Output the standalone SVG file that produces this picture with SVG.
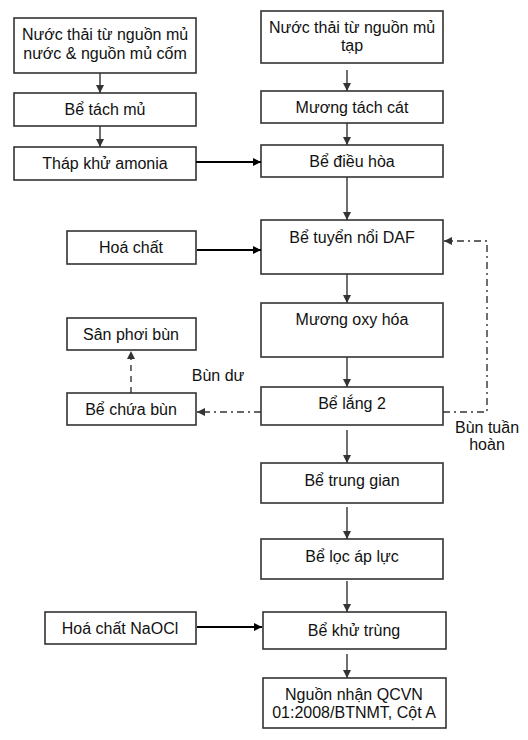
<svg xmlns="http://www.w3.org/2000/svg" width="528" height="740" viewBox="0 0 528 740">
<defs>
<style>
.box{fill:#fff;stroke:#333;stroke-width:1.6}
.t{font-family:"Liberation Sans",Arial,sans-serif;font-size:16px;fill:#111;text-anchor:middle}
.ln{fill:none;stroke:#333;stroke-width:1.4}
.thick{fill:none;stroke:#000;stroke-width:2.2}
.dd{fill:none;stroke:#333;stroke-width:1.4;stroke-dasharray:7 4 2 4}
.ds{fill:none;stroke:#333;stroke-width:1.4;stroke-dasharray:6 5}
</style>
<marker id="ah" markerUnits="userSpaceOnUse" markerWidth="10" markerHeight="10" refX="8" refY="4" orient="auto"><path d="M0,0 L8,4 L0,8 z" fill="#333"/></marker>
<marker id="ahk" markerUnits="userSpaceOnUse" markerWidth="10" markerHeight="10" refX="8" refY="4" orient="auto"><path d="M0,0 L8,4 L0,8 z" fill="#000"/></marker>
</defs>
<g id="n1"><rect class="box" x="14" y="18" width="182" height="55"/><text class="t" x="105" y="40">Nước thải từ nguồn mủ</text><text class="t" x="105" y="59">nước &amp; nguồn mủ cốm</text></g>
<g id="n2"><rect class="box" x="14" y="93" width="182" height="33"/><text class="t" x="105" y="115">Bể tách mủ</text></g>
<g id="n3"><rect class="box" x="14" y="147" width="182" height="33"/><text class="t" x="105" y="169">Tháp khử amonia</text></g>
<g id="nA"><rect class="box" x="261" y="11" width="182" height="52"/><text class="t" x="352" y="33">Nước thải từ nguồn mủ</text><text class="t" x="352" y="51">tạp</text></g>
<g id="nB"><rect class="box" x="261" y="91" width="182" height="32"/><text class="t" x="352" y="113">Mương tách cát</text></g>
<g id="nC"><rect class="box" x="261" y="145" width="182" height="32"/><text class="t" x="352" y="167">Bể điều hòa</text></g>
<g id="nD"><rect class="box" x="261" y="220" width="182" height="54"/><text class="t" x="352" y="243">Bể tuyển nổi DAF</text></g>
<g id="nHC"><rect class="box" x="67" y="231" width="129" height="33"/><text class="t" x="131" y="253">Hoá chất</text></g>
<g id="nE"><rect class="box" x="261" y="303" width="182" height="54"/><text class="t" x="352" y="325">Mương oxy hóa</text></g>
<g id="nSP"><rect class="box" x="67" y="318" width="129" height="32"/><text class="t" x="131" y="340">Sân phơi bùn</text></g>
<g id="nF"><rect class="box" x="261" y="387" width="182" height="38"/><text class="t" x="352" y="409">Bể lắng 2</text></g>
<g id="nCB"><rect class="box" x="67" y="393" width="129" height="32"/><text class="t" x="131" y="415">Bể chứa bùn</text></g>
<g id="nG"><rect class="box" x="261" y="463" width="182" height="40"/><text class="t" x="352" y="486">Bể trung gian</text></g>
<g id="nH"><rect class="box" x="261" y="539" width="182" height="40"/><text class="t" x="352" y="562">Bể lọc áp lực</text></g>
<g id="nI"><rect class="box" x="263" y="612" width="183" height="37"/><text class="t" x="354" y="636">Bể khử trùng</text></g>
<g id="nNa"><rect class="box" x="45" y="612" width="151" height="32"/><text class="t" x="120" y="634">Hoá chất NaOCl</text></g>
<g id="nJ"><rect class="box" x="263" y="678" width="183" height="50"/><text class="t" x="354" y="700">Nguồn nhận QCVN</text><text class="t" x="354" y="718">01:2008/BTNMT, Cột A</text></g>
<g id="labels">
<text class="t" x="218" y="381">Bùn dư</text>
<text class="t" x="487" y="433">Bùn tuần</text>
<text class="t" x="487" y="450">hoàn</text>
</g>
<g id="connectors">
<path class="ln" d="M100,73 V93" marker-end="url(#ah)"/>
<path class="ln" d="M100,126 V147" marker-end="url(#ah)"/>
<path class="thick" d="M196,162 H261" marker-end="url(#ahk)"/>
<path class="ln" d="M347,70 V91" marker-end="url(#ah)"/>
<path class="ln" d="M347,123 V145" marker-end="url(#ah)"/>
<path class="ln" d="M347,177 V220" marker-end="url(#ah)"/>
<path class="thick" d="M197,250 H261" marker-end="url(#ahk)"/>
<path class="ln" d="M347,274 V303" marker-end="url(#ah)"/>
<path class="ln" d="M347,357 V387" marker-end="url(#ah)"/>
<path class="ln" d="M347,430 V463" marker-end="url(#ah)"/>
<path class="ln" d="M347,507 V539" marker-end="url(#ah)"/>
<path class="ln" d="M347,581 V612" marker-end="url(#ah)"/>
<path class="thick" d="M197,627 H262" marker-end="url(#ahk)"/>
<path class="ln" d="M347,654 V678" marker-end="url(#ah)"/>
<path class="dd" d="M261,412 H197" marker-end="url(#ah)"/>
<path class="ds" d="M131,393 V351" marker-end="url(#ah)"/>
<path class="dd" d="M443,412 H487 V241 H444" marker-end="url(#ah)"/>
</g>
</svg>
